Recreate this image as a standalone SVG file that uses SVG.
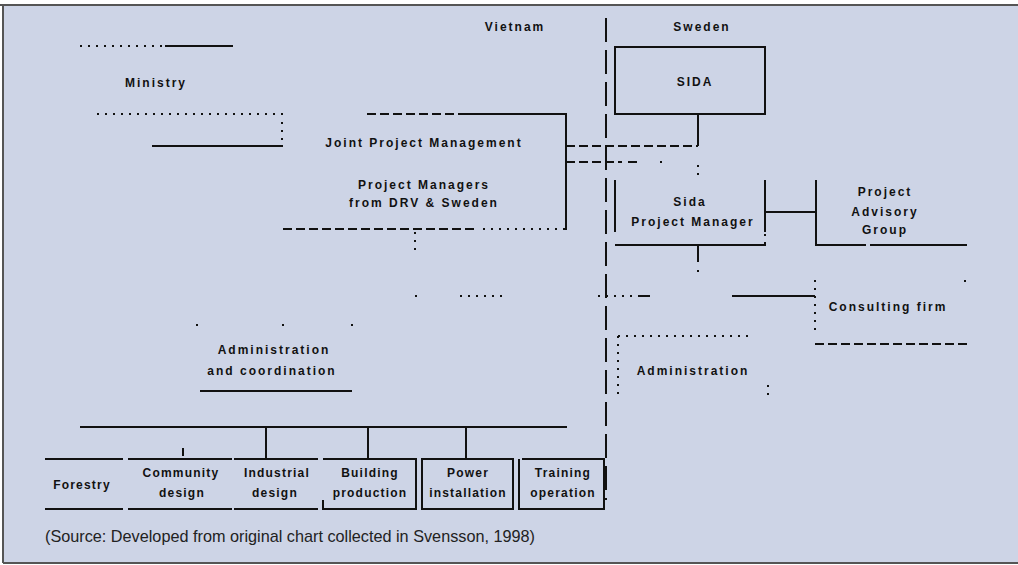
<svg xmlns="http://www.w3.org/2000/svg" width="1018" height="565" viewBox="0 0 1018 565">
<style>
.s{stroke:#111;stroke-width:2;fill:none}
.d{stroke:#111;stroke-width:2;fill:none;stroke-dasharray:9 4}
.o{stroke:#111;stroke-width:2;fill:none;stroke-dasharray:2 6}
.t{font-family:"Liberation Sans",Arial,sans-serif;font-size:12px;font-weight:bold;letter-spacing:2px;fill:#111;text-anchor:middle}
.b{letter-spacing:1.2px}
</style>
<rect x="0" y="0" width="1018" height="565" fill="#ffffff"/>
<rect x="3" y="5" width="1015" height="558" fill="#CDD4E6"/>
<path d="M0 5H1018M3 5V563M3 563H1018" stroke="#555" stroke-width="2" fill="none"/>

<text class="t" x="515" y="31">Vietnam</text>
<text class="t" x="702" y="31">Sweden</text>

<g id="connectors">
  <path class="s" d="M606 18V500" stroke-dasharray="24 8"/>
  <path class="d" d="M566 146H698"/>
  <path class="s" d="M698 114V146"/>
  <path class="d" d="M566 162H622M628 162H638"/>
  <path class="o" d="M660 162H662M698 165V180"/>
  <path class="s" d="M765 212H816"/>
  <path class="s" d="M698 245V262"/>
  <path class="o" d="M698 270V272"/>
  <path class="o" d="M415 232V256"/>
  <path class="o" d="M415 296H417M460 296H504M598 296H634"/>
  <path class="s" d="M638 296H650M732 296H815"/>
  <path class="s" d="M80 427H567M266 427V459M368 427V459M466 427V459"/>
  <path class="s" d="M183 448V456"/>
</g>

<g id="ministry">
  <path class="o" d="M80 46H165"/>
  <path class="s" d="M165 46H233"/>
  <path class="o" d="M97 114H288M282 122V146"/>
  <path class="s" d="M152 146H283"/>
  <text class="t" x="156" y="87">Ministry</text>
</g>

<g id="joint-project-management">
  <path class="d" d="M367 114H465"/>
  <path class="s" d="M465 114H566V230"/>
  <path class="d" d="M283 229H477"/>
  <path class="o" d="M483 229H566"/>
  <text class="t" x="424" y="147">Joint Project Management</text>
  <text class="t" x="424" y="189">Project Managers</text>
  <text class="t" x="424" y="207">from DRV &amp; Sweden</text>
</g>

<g id="sida">
  <rect class="s" x="615" y="47" width="150" height="67"/>
  <text class="t" x="695" y="86">SIDA</text>
</g>

<g id="sida-project-manager">
  <path class="s" d="M615 180V232M765 180V232M615 245H766"/>
  <path class="o" d="M765 234V245"/>
  <text class="t" x="690" y="206">Sida</text>
  <text class="t" x="693" y="226">Project Manager</text>
</g>

<g id="project-advisory-group">
  <path class="s" d="M816 180V245H866M870 245H967"/>
  <text class="t" x="885" y="196">Project</text>
  <text class="t" x="885" y="216">Advisory</text>
  <text class="t" x="885" y="234">Group</text>
</g>

<g id="consulting-firm">
  <path class="o" d="M815 280V332M965 280V282"/>
  <path class="d" d="M815 344H967"/>
  <text class="t" x="888" y="311">Consulting firm</text>
</g>

<g id="administration-sweden">
  <path class="o" d="M618 336H750M618 336V400M768 385V400"/>
  <text class="t" x="693" y="375">Administration</text>
</g>

<g id="administration-coordination">
  <path class="o" d="M196 325H198M282 325H284M351 325H353"/>
  <path class="s" d="M200 391H352"/>
  <text class="t" x="274" y="354">Administration</text>
  <text class="t" x="272" y="375">and coordination</text>
</g>

<g id="forestry">
  <path class="s" d="M45 459H123M45 509H123"/>
  <text class="t b" x="82" y="489">Forestry</text>
</g>
<g id="community-design">
  <path class="s" d="M128 459H232M128 509H232"/>
  <text class="t b" x="181" y="477">Community</text>
  <text class="t b" x="182" y="497">design</text>
</g>
<g id="industrial-design">
  <path class="s" d="M234 459H318M234 509H318"/>
  <text class="t b" x="277" y="477">Industrial</text>
  <text class="t b" x="275" y="497">design</text>
</g>
<g id="building-production">
  <path class="s" d="M323 459H416V509H323V500"/>
  <text class="t b" x="370" y="477">Building</text>
  <text class="t b" x="370" y="497">production</text>
</g>
<g id="power-installation">
  <rect class="s" x="422" y="459" width="91" height="50"/>
  <text class="t b" x="468" y="477">Power</text>
  <text class="t b" x="468" y="497">installation</text>
</g>
<g id="training-operation">
  <path class="s" d="M522 459H604V509H519V459"/>
  <text class="t b" x="563" y="477">Training</text>
  <text class="t b" x="563" y="497">operation</text>
</g>

<text x="45" y="542" font-family="'Liberation Sans',Arial,sans-serif" font-size="17" fill="#222" textLength="490" lengthAdjust="spacingAndGlyphs">(Source: Developed from original chart collected in Svensson, 1998)</text>
</svg>
